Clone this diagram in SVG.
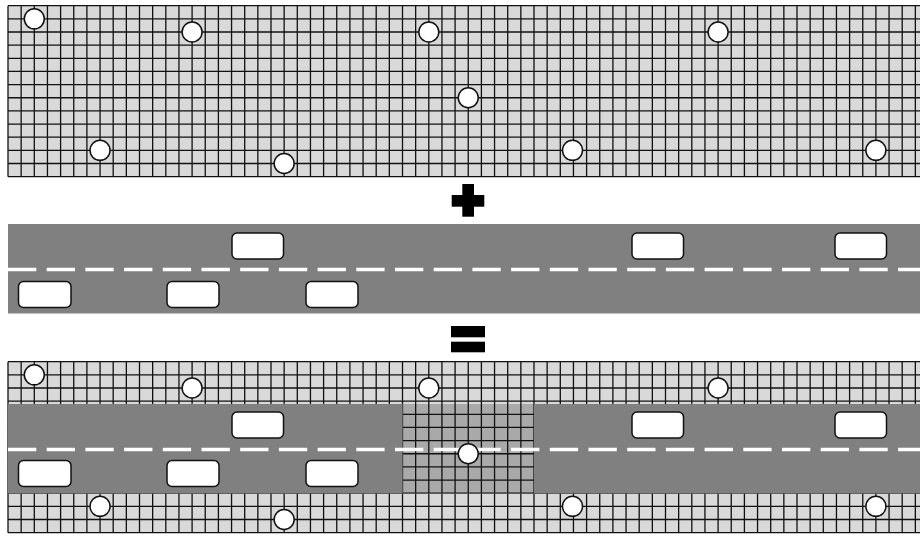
<svg xmlns="http://www.w3.org/2000/svg" xmlns:xlink="http://www.w3.org/1999/xlink" width="920" height="537" viewBox="0 0 920 537">
<style>
.cell{fill:#d9d9d9}
.gl{fill:none;stroke:#111;stroke-width:1.3}
.road{fill:#808080}
.dash{stroke:#fff;stroke-width:3.5;stroke-dasharray:28.3 10.4;fill:none}
.car{fill:#fff;stroke:#111;stroke-width:1.5}
.pt{fill:#fff;stroke:#111;stroke-width:1.5}
.sym{fill:#000}
</style>
<defs>
<path id="lines" class="gl" d="M8 5.7V176.65M21.15 5.7V176.65M34.3 5.7V176.65M47.45 5.7V176.65M60.6 5.7V176.65M73.75 5.7V176.65M86.9 5.7V176.65M100.05 5.7V176.65M113.2 5.7V176.65M126.35 5.7V176.65M139.5 5.7V176.65M152.65 5.7V176.65M165.8 5.7V176.65M178.95 5.7V176.65M192.1 5.7V176.65M205.25 5.7V176.65M218.4 5.7V176.65M231.55 5.7V176.65M244.7 5.7V176.65M257.85 5.7V176.65M271 5.7V176.65M284.15 5.7V176.65M297.3 5.7V176.65M310.45 5.7V176.65M323.6 5.7V176.65M336.75 5.7V176.65M349.9 5.7V176.65M363.05 5.7V176.65M376.2 5.7V176.65M389.35 5.7V176.65M402.5 5.7V176.65M415.65 5.7V176.65M428.8 5.7V176.65M441.95 5.7V176.65M455.1 5.7V176.65M468.25 5.7V176.65M481.4 5.7V176.65M494.55 5.7V176.65M507.7 5.7V176.65M520.85 5.7V176.65M534 5.7V176.65M547.15 5.7V176.65M560.3 5.7V176.65M573.45 5.7V176.65M586.6 5.7V176.65M599.75 5.7V176.65M612.9 5.7V176.65M626.05 5.7V176.65M639.2 5.7V176.65M652.35 5.7V176.65M665.5 5.7V176.65M678.65 5.7V176.65M691.8 5.7V176.65M704.95 5.7V176.65M718.1 5.7V176.65M731.25 5.7V176.65M744.4 5.7V176.65M757.55 5.7V176.65M770.7 5.7V176.65M783.85 5.7V176.65M797 5.7V176.65M810.15 5.7V176.65M823.3 5.7V176.65M836.45 5.7V176.65M849.6 5.7V176.65M862.75 5.7V176.65M875.9 5.7V176.65M889.05 5.7V176.65M902.2 5.7V176.65M915.35 5.7V176.65M8 5.7H920M8 18.85H920M8 32H920M8 45.15H920M8 58.3H920M8 71.45H920M8 84.6H920M8 97.75H920M8 110.9H920M8 124.05H920M8 137.2H920M8 150.35H920M8 163.5H920M8 176.65H920"/>
<g id="points">
<circle class="pt" cx="34.3" cy="18.85" r="10"/>
<circle class="pt" cx="192.1" cy="32" r="10"/>
<circle class="pt" cx="428.8" cy="32" r="10"/>
<circle class="pt" cx="718.1" cy="32" r="10"/>
<circle class="pt" cx="468.25" cy="97.75" r="10"/>
<circle class="pt" cx="100.05" cy="150.35" r="10"/>
<circle class="pt" cx="284.15" cy="163.5" r="10"/>
<circle class="pt" cx="572.5" cy="150.35" r="10"/>
<circle class="pt" cx="875.9" cy="150.35" r="10"/>
</g>
<g id="cars">
<rect class="car" x="232" y="233" width="51.5" height="26" rx="5"/>
<rect class="car" x="632" y="233" width="51.5" height="26" rx="5"/>
<rect class="car" x="835" y="233" width="51.5" height="26" rx="5"/>
<rect class="car" x="18.5" y="281.5" width="52.5" height="26" rx="5"/>
<rect class="car" x="167" y="281.5" width="52" height="26" rx="5"/>
<rect class="car" x="306" y="281.5" width="52" height="26" rx="5"/>
</g>
<clipPath id="ix"><rect x="402.5" y="404" width="131.5" height="89.5"/></clipPath>
</defs>
<g id="grid-layer">
<rect class="cell" x="8" y="5.7" width="912" height="170.95"/>
<use xlink:href="#lines"/>
<use xlink:href="#points"/>
</g>
<g id="plus">
<rect class="sym" x="451.7" y="195" width="32.6" height="11.7"/>
<rect class="sym" x="462.3" y="184" width="11.7" height="32.7"/>
</g>
<g id="road-layer">
<rect class="road" x="8" y="224" width="912" height="89.5"/>
<line class="dash" x1="8" y1="269.5" x2="920" y2="269.5"/>
<use xlink:href="#cars"/>
</g>
<g id="equals">
<rect class="sym" x="451" y="326" width="34" height="11.3"/>
<rect class="sym" x="451" y="341.7" width="34" height="10.6"/>
</g>
<g id="combined">
<rect class="cell" x="8" y="361.7" width="912" height="170.95"/>
<use xlink:href="#lines" transform="translate(0,356)"/>
<rect class="road" x="8" y="404" width="912" height="89.5"/>
<rect x="402.5" y="404" width="131.5" height="89.5" fill="#a9a9a9"/>
<g clip-path="url(#ix)"><use xlink:href="#lines" transform="translate(0,356)"/></g>
<line class="dash" x1="8" y1="449.5" x2="920" y2="449.5"/>
<use xlink:href="#cars" transform="translate(0,179)"/>
<use xlink:href="#points" transform="translate(0,356)"/>
</g>
</svg>
